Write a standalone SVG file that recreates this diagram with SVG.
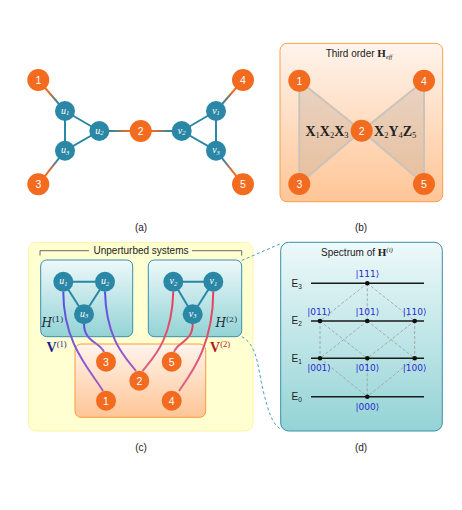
<svg xmlns="http://www.w3.org/2000/svg" width="462" height="510" viewBox="0 0 462 510">
<style>
.on{fill:#f26b1f}
.tn{fill:#2b87a6}
.nt{font-family:"Liberation Sans",Arial,sans-serif;font-size:10.5px;fill:#fff;text-anchor:middle}
.ut{font-family:"Liberation Serif","DejaVu Serif",serif;font-style:italic;font-size:10px;fill:#fff;text-anchor:middle}
.sub{font-size:6.5px}
.te{stroke:#2b87a6;stroke-width:2;fill:none}
.lbl{font-family:"Liberation Sans",Arial,sans-serif;font-size:10px;fill:#222;text-anchor:middle}
.ttl{font-family:"Liberation Sans",Arial,sans-serif;font-size:10px;fill:#222;text-anchor:middle}
.mb{font-family:"Liberation Serif","DejaVu Serif",serif;font-weight:bold;font-size:14px;fill:#222}
.en{font-family:"Liberation Sans",Arial,sans-serif;font-size:10px;fill:#222}
.ket{font-family:"DejaVu Sans","Liberation Sans",sans-serif;font-size:9px;fill:#2a2ad0;text-anchor:middle}
.lev{stroke:#1a1a1a;stroke-width:1.6}
.dl{stroke:#9a9a9a;stroke-width:0.8;stroke-dasharray:3 2;fill:none}
.dot{fill:#111}
.cal{font-family:"DejaVu Serif","Liberation Serif",serif;font-style:italic;font-size:12px;fill:#1a2a3a}
.sup{font-size:8px}
.conn{stroke:#4a9ec0;stroke-width:1;stroke-dasharray:3 2.5;fill:none}
</style>
<defs>
<linearGradient id="e1" gradientUnits="userSpaceOnUse" x1="38.3" y1="80" x2="65" y2="111"><stop offset="0.35" stop-color="#f26b1f"/><stop offset="0.75" stop-color="#2b87a6"/></linearGradient>
<linearGradient id="e3" gradientUnits="userSpaceOnUse" x1="38.3" y1="184.3" x2="65" y2="150.7"><stop offset="0.35" stop-color="#f26b1f"/><stop offset="0.75" stop-color="#2b87a6"/></linearGradient>
<linearGradient id="e2a" gradientUnits="userSpaceOnUse" x1="140.7" y1="0" x2="99.3" y2="0"><stop offset="0.3" stop-color="#f26b1f"/><stop offset="0.7" stop-color="#2b87a6"/></linearGradient>
<linearGradient id="e2b" gradientUnits="userSpaceOnUse" x1="140.7" y1="0" x2="181.7" y2="0"><stop offset="0.3" stop-color="#f26b1f"/><stop offset="0.7" stop-color="#2b87a6"/></linearGradient>
<linearGradient id="e4" gradientUnits="userSpaceOnUse" x1="243" y1="80" x2="216" y2="111"><stop offset="0.35" stop-color="#f26b1f"/><stop offset="0.75" stop-color="#2b87a6"/></linearGradient>
<linearGradient id="e5" gradientUnits="userSpaceOnUse" x1="243" y1="184.3" x2="216" y2="150.7"><stop offset="0.35" stop-color="#f26b1f"/><stop offset="0.75" stop-color="#2b87a6"/></linearGradient>
<linearGradient id="gOr" x1="0" y1="0" x2="0" y2="1"><stop offset="0" stop-color="#fff4ec"/><stop offset="1" stop-color="#ffc596"/></linearGradient>
<linearGradient id="gTe" x1="0" y1="0" x2="0" y2="1"><stop offset="0" stop-color="#eef9fa"/><stop offset="1" stop-color="#93d3d5"/></linearGradient>
<linearGradient id="gPu" x1="0" y1="0" x2="0" y2="1"><stop offset="0" stop-color="#5050ea"/><stop offset="1" stop-color="#a45cc0"/></linearGradient>
<linearGradient id="gRe" x1="0" y1="0" x2="0" y2="1"><stop offset="0" stop-color="#e83e58"/><stop offset="1" stop-color="#d86484"/></linearGradient>
</defs>

<!-- Panel (a) -->
<g id="panel-a-edges">
<line class="te" x1="65" y1="111" x2="99.3" y2="131"/>
<line class="te" x1="65" y1="111" x2="65" y2="150.7"/>
<line class="te" x1="65" y1="150.7" x2="99.3" y2="131"/>
<line class="te" x1="216" y1="111" x2="181.7" y2="131"/>
<line class="te" x1="216" y1="111" x2="216" y2="150.7"/>
<line class="te" x1="216" y1="150.7" x2="181.7" y2="131"/>
<line stroke="url(#e1)" stroke-width="2" x1="38.3" y1="80" x2="65" y2="111"/>
<line stroke="url(#e3)" stroke-width="2" x1="38.3" y1="184.3" x2="65" y2="150.7"/>
<line stroke="url(#e2a)" stroke-width="2" x1="140.7" y1="131" x2="99.3" y2="131"/>
<line stroke="url(#e2b)" stroke-width="2" x1="140.7" y1="131" x2="181.7" y2="131"/>
<line stroke="url(#e4)" stroke-width="2" x1="243" y1="80" x2="216" y2="111"/>
<line stroke="url(#e5)" stroke-width="2" x1="243" y1="184.3" x2="216" y2="150.7"/>
</g>
<g id="a-n1"><circle class="on" cx="38.3" cy="80" r="11"/><text class="nt" x="38.3" y="84">1</text></g>
<g id="a-n3"><circle class="on" cx="38.3" cy="184.3" r="11"/><text class="nt" x="38.3" y="188.3">3</text></g>
<g id="a-n2"><circle class="on" cx="140.7" cy="131" r="11"/><text class="nt" x="140.7" y="135">2</text></g>
<g id="a-n4"><circle class="on" cx="243" cy="80" r="11"/><text class="nt" x="243" y="84">4</text></g>
<g id="a-n5"><circle class="on" cx="243" cy="184.3" r="11"/><text class="nt" x="243" y="188.3">5</text></g>
<g id="a-u1"><circle class="tn" cx="65" cy="111" r="10"/><text class="ut" x="65" y="113.5">u<tspan class="sub" dy="1.5">1</tspan></text></g>
<g id="a-u2"><circle class="tn" cx="99.3" cy="131" r="10"/><text class="ut" x="99.3" y="133.5">u<tspan class="sub" dy="1.5">2</tspan></text></g>
<g id="a-u3"><circle class="tn" cx="65" cy="150.7" r="10"/><text class="ut" x="65" y="153.2">u<tspan class="sub" dy="1.5">3</tspan></text></g>
<g id="a-v1"><circle class="tn" cx="216" cy="111" r="10"/><text class="ut" x="216" y="113.5">v<tspan class="sub" dy="1.5">1</tspan></text></g>
<g id="a-v2"><circle class="tn" cx="181.7" cy="131" r="10"/><text class="ut" x="181.7" y="133.5">v<tspan class="sub" dy="1.5">2</tspan></text></g>
<g id="a-v3"><circle class="tn" cx="216" cy="150.7" r="10"/><text class="ut" x="216" y="153.2">v<tspan class="sub" dy="1.5">3</tspan></text></g>
<text class="lbl" x="141" y="230.5">(a)</text>

<!-- Panel (b) -->
<g id="panel-b">
<rect x="280" y="43.3" width="162.7" height="158.4" rx="7" fill="url(#gOr)" stroke="#f5a04c" stroke-width="1"/>
<text class="ttl" x="359" y="56.5">Third order <tspan font-family="Liberation Serif,serif" font-weight="bold" font-size="11px">H</tspan><tspan font-family="Liberation Serif,serif" font-style="italic" font-size="6.5px" dy="2">eff</tspan></text>
<polygon points="299.3,80.7 361.7,130.7 299.3,184" fill="#b8a898" fill-opacity="0.32" stroke="#cbc3ba" stroke-width="2" stroke-linejoin="round"/>
<polygon points="424,80.7 361.7,130.7 424,184" fill="#b8a898" fill-opacity="0.32" stroke="#cbc3ba" stroke-width="2" stroke-linejoin="round"/>
<text class="mb" x="348.5" y="136" text-anchor="end">X<tspan dy="2" font-weight="normal" font-size="8.5px">1</tspan><tspan dy="-2">X</tspan><tspan dy="2" font-weight="normal" font-size="8.5px">2</tspan><tspan dy="-2">X</tspan><tspan dy="2" font-weight="normal" font-size="8.5px">3</tspan></text>
<text class="mb" x="374" y="136">X<tspan dy="2" font-weight="normal" font-size="8.5px">2</tspan><tspan dy="-2">Y</tspan><tspan dy="2" font-weight="normal" font-size="8.5px">4</tspan><tspan dy="-2">Z</tspan><tspan dy="2" font-weight="normal" font-size="8.5px">5</tspan></text>
</g>
<g id="b-n1"><circle class="on" cx="299.3" cy="80.7" r="11"/><text class="nt" x="299.3" y="84.7">1</text></g>
<g id="b-n2"><circle class="on" cx="361.7" cy="130.7" r="11"/><text class="nt" x="361.7" y="134.7">2</text></g>
<g id="b-n3"><circle class="on" cx="299.3" cy="184" r="11"/><text class="nt" x="299.3" y="188">3</text></g>
<g id="b-n4"><circle class="on" cx="424" cy="80.7" r="11"/><text class="nt" x="424" y="84.7">4</text></g>
<g id="b-n5"><circle class="on" cx="424" cy="184" r="11"/><text class="nt" x="424" y="188">5</text></g>
<text class="lbl" x="361" y="230.5">(b)</text>

<!-- Panel (c) -->
<g id="panel-c">
<rect x="28.3" y="242.3" width="224.7" height="188.7" rx="8" fill="#ffffd2" stroke="#fff3a6" stroke-width="1"/>
<path d="M40,255.5 V250.7 H89 M192,250.7 H241.7 V255.5" fill="none" stroke="#444" stroke-width="0.8"/>
<text class="ttl" x="141" y="254">Unperturbed systems</text>
<rect id="H1box" x="40.7" y="260" width="92" height="76.7" rx="6" fill="url(#gTe)" stroke="#3a8faa" stroke-width="1"/>
<rect id="H2box" x="148.3" y="260" width="93.4" height="76.7" rx="6" fill="url(#gTe)" stroke="#3a8faa" stroke-width="1"/>
<rect id="Obox" x="75" y="344" width="130.7" height="73.3" rx="6" fill="url(#gOr)" stroke="#f59c3a" stroke-width="1"/>
<text class="cal" x="41.5" y="327">H<tspan class="sup" font-style="normal" dy="-5">(1)</tspan></text>
<text class="cal" x="215.5" y="327">H<tspan class="sup" font-style="normal" dy="-5">(2)</tspan></text>
<text class="mb" x="46.5" y="352" font-size="13px" style="fill:#1c1c8c">V<tspan font-weight="normal" font-size="8.5px" dy="-5">(1)</tspan></text>
<text class="mb" x="210" y="352" font-size="13px" style="fill:#b01818">V<tspan font-weight="normal" font-size="8.5px" dy="-5">(2)</tspan></text>
</g>
<g id="c-edges">
<line class="te" x1="63.3" y1="281.7" x2="105" y2="281.7"/>
<line class="te" x1="63.3" y1="281.7" x2="84" y2="314.3"/>
<line class="te" x1="105" y1="281.7" x2="84" y2="314.3"/>
<line class="te" x1="173.3" y1="281.7" x2="213.3" y2="281.7"/>
<line class="te" x1="173.3" y1="281.7" x2="192.7" y2="314.3"/>
<line class="te" x1="213.3" y1="281.7" x2="192.7" y2="314.3"/>
</g>
<g id="c-connectors" fill="none" stroke-width="2">
<path d="M63.3,291.5 C63,345 92,372 103,391" stroke="url(#gPu)"/>
<path d="M84,324 C84,342 100,342 104,352" stroke="url(#gPu)"/>
<path d="M105,291.5 C106,340 126,358 136,371" stroke="url(#gPu)"/>
<path d="M173.3,291.5 C172,340 153,358 142.5,371" stroke="url(#gRe)"/>
<path d="M192.7,324 C192.7,342 177,342 174,352" stroke="url(#gRe)"/>
<path d="M213.3,291.5 C213,345 192,372 179,391" stroke="url(#gRe)"/>
</g>
<g id="c-u1"><circle class="tn" cx="63.3" cy="281.7" r="10"/><text class="ut" x="63.3" y="284.2">u<tspan class="sub" dy="1.5">1</tspan></text></g>
<g id="c-u2"><circle class="tn" cx="105" cy="281.7" r="10"/><text class="ut" x="105" y="284.2">u<tspan class="sub" dy="1.5">2</tspan></text></g>
<g id="c-u3"><circle class="tn" cx="84" cy="314.3" r="10"/><text class="ut" x="84" y="316.8">u<tspan class="sub" dy="1.5">3</tspan></text></g>
<g id="c-v1"><circle class="tn" cx="213.3" cy="281.7" r="10"/><text class="ut" x="213.3" y="284.2">v<tspan class="sub" dy="1.5">1</tspan></text></g>
<g id="c-v2"><circle class="tn" cx="173.3" cy="281.7" r="10"/><text class="ut" x="173.3" y="284.2">v<tspan class="sub" dy="1.5">2</tspan></text></g>
<g id="c-v3"><circle class="tn" cx="192.7" cy="314.3" r="10"/><text class="ut" x="192.7" y="316.8">v<tspan class="sub" dy="1.5">3</tspan></text></g>
<g id="c-n1"><circle class="on" cx="106" cy="400.7" r="10"/><text class="nt" x="106" y="404.5">1</text></g>
<g id="c-n2"><circle class="on" cx="139.3" cy="380.7" r="10"/><text class="nt" x="139.3" y="384.5">2</text></g>
<g id="c-n3"><circle class="on" cx="106" cy="361.7" r="10"/><text class="nt" x="106" y="365.5">3</text></g>
<g id="c-n4"><circle class="on" cx="171.7" cy="400.7" r="10"/><text class="nt" x="171.7" y="404.5">4</text></g>
<g id="c-n5"><circle class="on" cx="171.7" cy="361.7" r="10"/><text class="nt" x="171.7" y="365.5">5</text></g>
<text class="lbl" x="141" y="450.5">(c)</text>

<!-- zoom connectors -->
<g id="zoom-connectors">
<path class="conn" d="M241.7,260.5 L281,243.5"/>
<path class="conn" d="M241.7,336.7 C258,345 258,370 263,390 C268,410 272,425 281,429"/>
</g>

<!-- Panel (d) -->
<g id="panel-d">
<rect x="280.7" y="242.3" width="161.6" height="188.7" rx="8" fill="url(#gTe)" stroke="#3a8faa" stroke-width="1"/>
<text class="ttl" x="357" y="256">Spectrum of <tspan font-family="Liberation Serif,serif" font-weight="bold" font-size="11px">H</tspan><tspan font-family="Liberation Serif,serif" font-style="italic" font-size="7px" dy="-4">(i)</tspan></text>
<g id="d-dashes">
<line class="dl" x1="367.3" y1="283.3" x2="320" y2="321"/>
<line class="dl" x1="367.3" y1="283.3" x2="367.3" y2="321"/>
<line class="dl" x1="367.3" y1="283.3" x2="414.7" y2="321"/>
<line class="dl" x1="320" y1="321" x2="320" y2="358.3"/>
<line class="dl" x1="320" y1="321" x2="367.3" y2="358.3"/>
<line class="dl" x1="367.3" y1="321" x2="320" y2="358.3"/>
<line class="dl" x1="367.3" y1="321" x2="414.7" y2="358.3"/>
<line class="dl" x1="414.7" y1="321" x2="367.3" y2="358.3"/>
<line class="dl" x1="414.7" y1="321" x2="414.7" y2="358.3"/>
<line class="dl" x1="320" y1="358.3" x2="367.3" y2="396.7"/>
<line class="dl" x1="367.3" y1="358.3" x2="367.3" y2="396.7"/>
<line class="dl" x1="414.7" y1="358.3" x2="367.3" y2="396.7"/>
</g>
<line class="lev" x1="311" y1="283.3" x2="424" y2="283.3"/>
<line class="lev" x1="311" y1="321" x2="424" y2="321"/>
<line class="lev" x1="311" y1="358.3" x2="424" y2="358.3"/>
<line class="lev" x1="311" y1="396.7" x2="424" y2="396.7"/>
<text class="en" x="291.5" y="286.5">E<tspan font-size="6.5px" dy="2">3</tspan></text>
<text class="en" x="291.5" y="324.2">E<tspan font-size="6.5px" dy="2">2</tspan></text>
<text class="en" x="291.5" y="361.5">E<tspan font-size="6.5px" dy="2">1</tspan></text>
<text class="en" x="291.5" y="399.9">E<tspan font-size="6.5px" dy="2">0</tspan></text>
<circle class="dot" cx="367.3" cy="283.3" r="2.3"/>
<circle class="dot" cx="320" cy="321" r="2.3"/>
<circle class="dot" cx="367.3" cy="321" r="2.3"/>
<circle class="dot" cx="414.7" cy="321" r="2.3"/>
<circle class="dot" cx="320" cy="358.3" r="2.3"/>
<circle class="dot" cx="367.3" cy="358.3" r="2.3"/>
<circle class="dot" cx="414.7" cy="358.3" r="2.3"/>
<circle class="dot" cx="367.3" cy="396.7" r="2.3"/>
<text class="ket" x="367.3" y="277">|111⟩</text>
<text class="ket" x="319" y="314.5">|011⟩</text>
<text class="ket" x="367.3" y="314.5">|101⟩</text>
<text class="ket" x="414.7" y="314.5">|110⟩</text>
<text class="ket" x="319" y="371">|001⟩</text>
<text class="ket" x="367.3" y="371">|010⟩</text>
<text class="ket" x="414.7" y="371">|100⟩</text>
<text class="ket" x="367.3" y="409.5">|000⟩</text>
</g>
<text class="lbl" x="361" y="450.5">(d)</text>
</svg>
